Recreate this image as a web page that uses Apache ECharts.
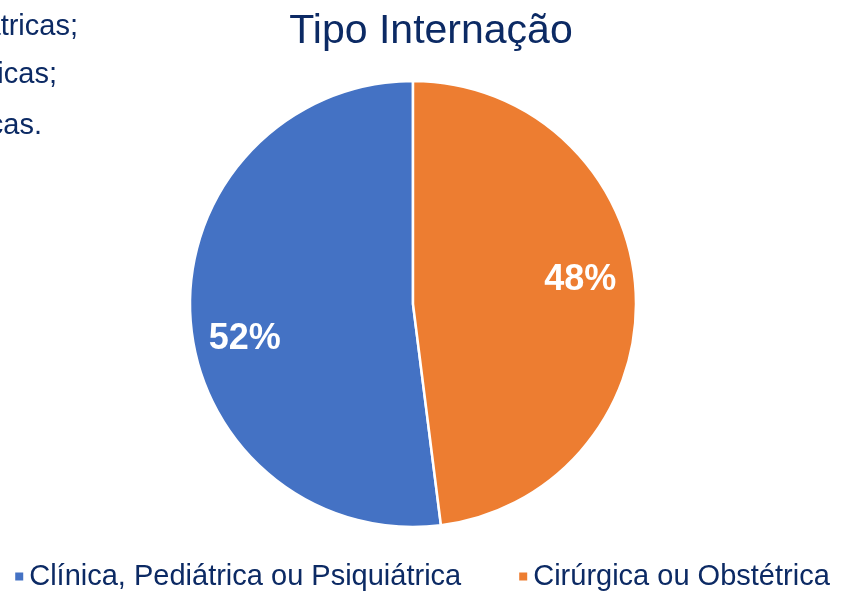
<!DOCTYPE html>
<html>
<head>
<meta charset="utf-8">
<script src="https://cdn.jsdelivr.net/npm/echarts@6/dist/echarts.min.js"></script>
<style>
  html, body { margin: 0; padding: 0; background: #fff; }
  #chart { width: 843px; height: 593px; }
</style>
</head>
<body>
<div id="chart"></div>
<script>
const categories = ['Clínica, Pediátrica ou Psiquiátrica', 'Cirúrgica ou Obstétrica'];
const values = [52, 48];
const colors = ['#4472C4', '#ED7D31'];
// leftover slide text, cut at the left edge
const sideLines = ['Psiquiátricas;', 'Cirúrgicas;', 'Obstétricas.'];

const navy = '#0c2a64';
const total = values.reduce((a, b) => a + b, 0);
// orange slice starts at 12 o'clock going clockwise
const startAngle = 90 - (values[1] / total) * 360;

const chart = echarts.init(document.getElementById('chart'));
chart.setOption({
  backgroundColor: '#fff',
  title: {
    text: 'Tipo Internação',
    left: 426,
    textAlign: 'center',
    top: 6,
    textStyle: { fontFamily: 'Liberation Sans', fontSize: 41, fontWeight: 'normal', color: navy }
  },
  legend: {
    data: categories,
    left: 'center',
    top: 557,
    icon: 'rect',
    itemWidth: 10,
    itemHeight: 10,
    itemGap: 56,
    textStyle: { fontFamily: 'Liberation Sans', fontSize: 29, color: navy }
  },
  graphic: sideLines.map((t, i) => ({
    type: 'text',
    right: [765, 786, 801][i],
    top: [12, 60, 111][i],
    style: { text: t, font: '29px "Liberation Sans"', fill: navy }
  })),
  series: [{
    type: 'pie',
    center: [413, 304],
    radius: 223,
    startAngle: startAngle,
    clockwise: true,
    percentPrecision: 0,
    color: colors,
    itemStyle: { borderColor: '#fff', borderWidth: 2.5 },
    label: {
      position: 'inside',
      formatter: '{d}%',
      color: '#fff',
      fontFamily: 'Liberation Sans',
      fontWeight: 'bold',
      fontSize: 36
    },
    labelLayout: function (p) {
      return p.dataIndex === 0 ? { dx: -54, dy: 28 } : { dx: 53, dy: -17 };
    },
    labelLine: { show: false },
    emphasis: { disabled: true },
    data: categories.map((c, i) => ({ name: c, value: values[i] }))
  }]
});
</script>
</body>
</html>
